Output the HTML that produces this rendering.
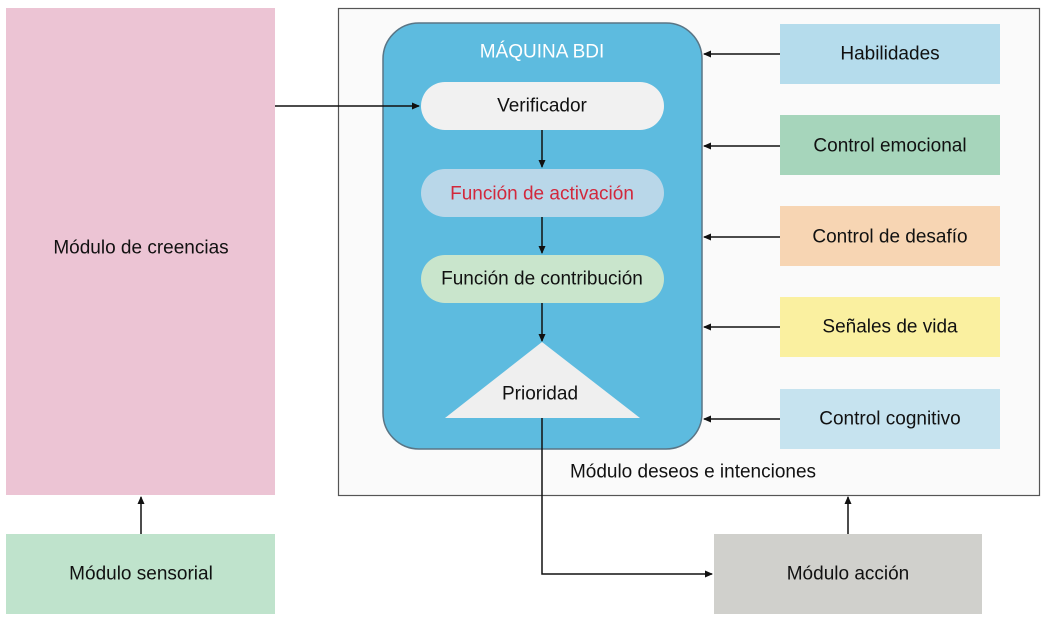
<!DOCTYPE html>
<html><head><meta charset="utf-8"><style>
body{margin:0;background:#fff}
svg{display:block;font-family:"Liberation Sans",sans-serif}
text{font-size:19px;fill:#111;text-anchor:middle;dominant-baseline:central}
</style></head><body>
<svg width="1046" height="623" viewBox="0 0 1046 623">
<defs><marker id="a" markerWidth="8" markerHeight="8" refX="7" refY="4" orient="auto" markerUnits="userSpaceOnUse"><path d="M0,0.5 L8,4 L0,7.5z" fill="#111"/></marker></defs>
<rect x="6" y="8" width="269" height="487" fill="#ecc4d4"/>
<text x="141" y="248">Módulo de creencias</text>
<rect x="6" y="534" width="269" height="80" fill="#bfe3cc"/>
<text x="141" y="574">Módulo sensorial</text>
<line x1="141" y1="534" x2="141" y2="497" stroke="#111" stroke-width="1.5" marker-end="url(#a)"/>
<rect x="338.5" y="8.5" width="701" height="487" fill="#fafafa" stroke="#555" stroke-width="1.2"/>
<rect x="383" y="23" width="319" height="426" rx="36" fill="#5dbbdf" stroke="#5a7585" stroke-width="1.5"/>
<text x="542" y="52" style="fill:#fff">MÁQUINA BDI</text>
<rect x="421" y="82" width="243" height="48" rx="24" fill="#f1f1f1"/>
<text x="542" y="106">Verificador</text>
<rect x="421" y="169" width="243" height="48" rx="24" fill="#b9d7e9"/>
<text x="542" y="194" style="fill:#d2283c">Función de activación</text>
<rect x="421" y="255" width="243" height="48" rx="24" fill="#c9e5cc"/>
<text x="542" y="279">Función de contribución</text>
<polygon points="542,342 640,418 445,418" fill="#efefef"/>
<text x="540" y="394">Prioridad</text>
<g stroke="#111" stroke-width="1.5" fill="none">
<line x1="542" y1="130" x2="542" y2="167" marker-end="url(#a)"/>
<line x1="542" y1="217" x2="542" y2="253" marker-end="url(#a)"/>
<line x1="542" y1="303" x2="542" y2="341" marker-end="url(#a)"/>
<line x1="275" y1="106" x2="419" y2="106" marker-end="url(#a)"/>
<polyline points="542,418 542,574 712,574" marker-end="url(#a)"/>
<line x1="848" y1="534" x2="848" y2="497" marker-end="url(#a)"/>
<line x1="780" y1="54" x2="704" y2="54" marker-end="url(#a)"/>
<line x1="780" y1="146" x2="704" y2="146" marker-end="url(#a)"/>
<line x1="780" y1="237" x2="704" y2="237" marker-end="url(#a)"/>
<line x1="780" y1="327" x2="704" y2="327" marker-end="url(#a)"/>
<line x1="780" y1="419" x2="704" y2="419" marker-end="url(#a)"/>
</g>
<rect x="780" y="24" width="220" height="60" fill="#b5dcec"/><text x="890" y="54">Habilidades</text>
<rect x="780" y="115" width="220" height="60" fill="#a6d5bb"/><text x="890" y="146">Control emocional</text>
<rect x="780" y="206" width="220" height="60" fill="#f7d5b3"/><text x="890" y="237">Control de desafío</text>
<rect x="780" y="297" width="220" height="60" fill="#faf0a0"/><text x="890" y="327">Señales de vida</text>
<rect x="780" y="389" width="220" height="60" fill="#c6e3ef"/><text x="890" y="419">Control cognitivo</text>
<text x="693" y="472">Módulo deseos e intenciones</text>
<rect x="714" y="534" width="268" height="80" fill="#d0d0cc"/>
<text x="848" y="574">Módulo acción</text>
</svg>
</body></html>
